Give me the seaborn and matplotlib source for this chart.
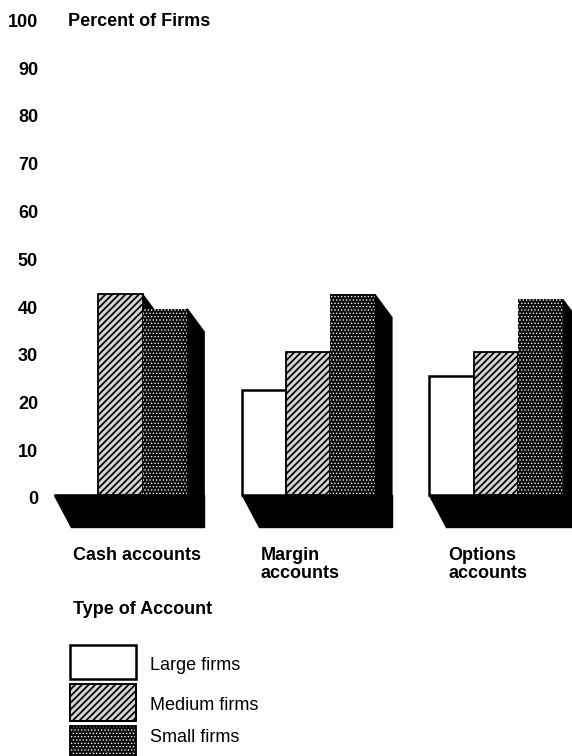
import matplotlib
matplotlib.use("Agg")
import matplotlib.pyplot as plt
import matplotlib.transforms as mtransforms
from matplotlib.patches import Polygon, Rectangle
import pandas as pd
import seaborn as sns

# Percent of firms by type of account and firm size
accounts = ["Cash accounts", "Margin accounts", "Options accounts"]
account_labels = ["Cash accounts", "Margin\naccounts", "Options\naccounts"]
sizes = ["Large firms", "Medium firms", "Small firms"]
large = [0, 22, 25]
medium = [42, 30, 30]
small = [39, 42, 41]
yticks = [0, 10, 20, 30, 40, 50, 60, 70, 80, 90, 100]

sns.set_style("white")
plt.rcParams["font.family"] = ["Liberation Sans", "DejaVu Sans"]
plt.rcParams["text.color"] = "black"
plt.rcParams["ytick.color"] = "black"
plt.rcParams["hatch.linewidth"] = 1.2

df = pd.DataFrame({
    "account": accounts * 3,
    "size": [s for s in sizes for _ in accounts],
    "pct": large + medium + small,
})

styles = {
    "Large firms": dict(face="white", edge="black", hatch=None, lw=1.8, hlw=1.0),
    "Medium firms": dict(face="#d4d4d4", edge="black", hatch="/////", lw=1.3, hlw=1.25),
    "Small firms": dict(face="#0a0a0a", edge="white", hatch=".....", lw=0, hlw=0.55),
}


def apply_style(p, st):
    p.set_facecolor(st["face"])
    p.set_edgecolor(st["edge"])
    p.set_linewidth(st["lw"])
    if st["hatch"]:
        p.set_hatch(st["hatch"])
        if hasattr(p, "set_hatch_linewidth"):
            p.set_hatch_linewidth(st["hlw"])


W, H, DPI = 572, 756, 100
fig = plt.figure(figsize=(W / DPI, H / DPI), dpi=DPI)
ax = fig.add_axes([45 / W, 0, 1 - 45 / W, 1])

sns.barplot(data=df, x="account", y="pct", hue="size", order=accounts,
            hue_order=sizes, palette={s: styles[s]["face"] for s in sizes},
            saturation=1, width=0.71, dodge=True, legend=False, ax=ax,
            edgecolor="black", linewidth=1.5, zorder=3)

px_x = 187.75   # pixels per category step
px_y = 4.775    # pixels per percent
ax.set_xlim((45 - 120.5) / px_x, (W - 120.5) / px_x)
ax.set_ylim(-(H - 495) / px_y, 495 / px_y)

# bar styling per firm size (seaborn draws one hue level after another)
bars = list(ax.patches)
n = len(accounts)
groups = {}
for j, s in enumerate(sizes):
    for i, p in enumerate(bars[j * n:(j + 1) * n]):
        apply_style(p, styles[s])
        groups.setdefault(i, []).append(p)

# shaded floor and side faces for the raised-bar look
dx = 17 / px_x
ds = 23 / px_y
fd = 32 / px_y
for i, ps in groups.items():
    ps = sorted(ps, key=lambda p: p.get_x())
    xl = ps[0].get_x()
    xr = ps[-1].get_x() + ps[-1].get_width()
    ax.add_patch(Polygon([(xl, 0), (xr + dx, 0), (xr + dx, -fd), (xl + dx, -fd)],
                         closed=True, facecolor="black", edgecolor="black",
                         lw=1, zorder=2))
    for p in ps:
        h = p.get_height()
        if h <= 0:
            continue
        r = p.get_x() + p.get_width()
        ax.add_patch(Polygon([(r, h), (r + dx, h - ds), (r + dx, -fd), (r, -fd)],
                             closed=True, facecolor="black", edgecolor="black",
                             lw=1, zorder=2))

# axes decoration
for sp in ax.spines.values():
    sp.set_visible(False)
ax.set_xticks([])
ax.set_xlabel("")
ax.set_ylabel("")
ax.set_yticks(yticks)
ax.set_yticklabels([str(v) for v in yticks], fontsize=13, fontweight="bold")
ax.tick_params(axis="y", length=0, pad=5)
shift = mtransforms.ScaledTranslation(0, -3 / DPI, fig.dpi_scale_trans)
for lab in ax.get_yticklabels():
    lab.set_transform(lab.get_transform() + shift)
ax.grid(False)


def to_x(px):
    return (px - 120.5) / px_x


def to_y(py):
    return (495 - py) / px_y


ax.text(to_x(68), to_y(21), "Percent of Firms", fontsize=13, fontweight="bold",
        ha="left", va="center", clip_on=False)

for i, lab in enumerate(account_labels):
    x0 = groups[i][0].get_x()
    ax.text(x0 + 19 / px_x, to_y(547), lab, fontsize=13, fontweight="bold",
            ha="left", va="top", linespacing=1.1, clip_on=False)

ax.text(to_x(73), to_y(610), "Type of Account", fontsize=13, fontweight="bold",
        ha="left", va="center", clip_on=False)

# legend swatches
box_rows = [(645, 679, 666), (684, 721, 705), (726, 760, 738)]
for s, (top, bot, mid) in zip(sizes, box_rows):
    sw = Rectangle((to_x(70), to_y(bot)), 66 / px_x, (bot - top) / px_y,
                   clip_on=False, zorder=3)
    apply_style(sw, styles[s])
    ax.add_patch(sw)
    if s != "Large firms":
        ax.add_patch(Rectangle((to_x(70), to_y(bot)), 66 / px_x,
                               (bot - top) / px_y, facecolor="none",
                               edgecolor="black", lw=1.3, clip_on=False,
                               zorder=4))
    ax.text(to_x(150), to_y(mid), s, fontsize=13, ha="left", va="center",
            clip_on=False)

fig.savefig("out.png", dpi=DPI)
